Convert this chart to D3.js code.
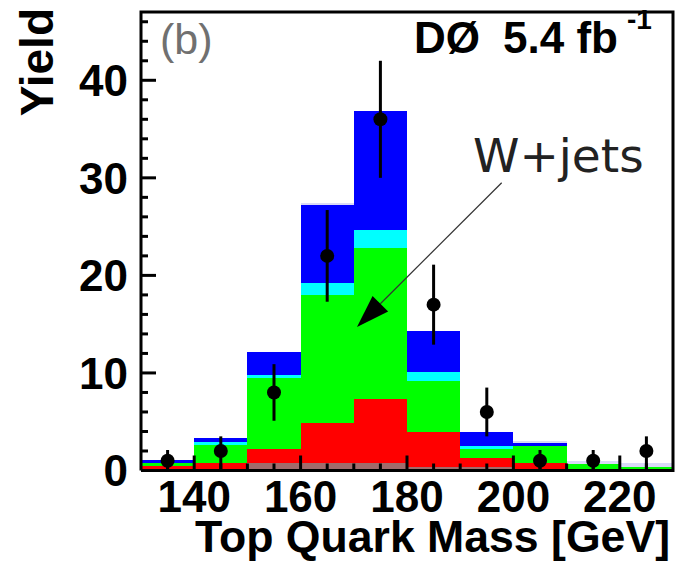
<!DOCTYPE html>
<html>
<head>
<meta charset="utf-8">
<script src="https://cdn.jsdelivr.net/npm/d3@7"></script>
<style>
  body { margin: 0; background: #fff; }
  svg { display: block; }
</style>
</head>
<body>
<svg id="chart" width="677" height="567"></svg>
<script>
// bin lower edges in GeV, each 10 GeV wide
const binEdges = [130, 140, 150, 160, 170, 180, 190, 200, 210, 220];
const binWidth = 10;

// stacked components, bottom to top
const grey     = [0.1, 0.1, 0.74, 0.74, 0.74, 0.39, 0.33, 0.1, 0, 0];
const red      = [0.35, 0.69, 1.51, 4.16, 6.59, 3.58, 0.98, 0.64, 0, 0];
const green    = [0.27, 1.8, 7.23, 13.08, 15.5, 5.2, 0.92, 1.8, 0.67, 0.39];
const cyan     = [0.07, 0.31, 0.34, 1.26, 1.81, 0.95, 0.31, 0, 0, 0];
const blue     = [0.27, 0.44, 2.32, 7.96, 12.22, 4.18, 1.44, 0.28, 0, 0];
const lavender = [0, 0, 0, 0.18, 0, 0, 0, 0.2, 0.3, 0.35];

// data points with error bars
const dataCounts = [1, 2, 8, 22, 36, 17, 6, 1, 1, 2];
const errHigh    = [1.1, 1.5, 2.9, 4.7, 6.0, 4.1, 2.5, 1.1, 1.1, 1.5];
const errLow     = [1, 1.9, 2.9, 4.7, 6.0, 4.1, 2.5, 1, 1, 2];

const xTicksMajor = [140, 160, 180, 200, 220];
const yTicksMajor = [0, 10, 20, 30, 40];

const svg = d3.select('#chart');
const pLeft = 141, pRight = 673, pTop = 12, pBottom = 470.5;

const x = d3.scaleLinear().domain([130, 230]).range([pLeft, pRight]);
const y = d3.scaleLinear().domain([0, 47]).range([pBottom, pTop]);

const layerNames = ['grey', 'red', 'green', 'cyan', 'blue', 'lavender'];
const layerColors = {
  grey: '#a06b6b', red: '#ff0000', green: '#00ff00',
  cyan: '#00ffff', blue: '#0000ff', lavender: '#d9d9f7'
};
const layerData = { grey, red, green, cyan, blue, lavender };

const rows = binEdges.map(function(e, i) {
  const r = { edge: e };
  layerNames.forEach(function(n) { r[n] = layerData[n][i]; });
  return r;
});

const stacked = d3.stack().keys(layerNames)(rows);

svg.append('g')
  .selectAll('g')
  .data(stacked)
  .enter()
  .append('g')
  .attr('fill', function(d) { return layerColors[d.key]; })
  .selectAll('rect')
  .data(function(d) { return d; })
  .enter()
  .append('rect')
  .attr('shape-rendering', 'crispEdges')
  .attr('x', function(d) { return x(d.data.edge); })
  .attr('width', function(d) { return x(d.data.edge + binWidth) - x(d.data.edge); })
  .attr('y', function(d) { return y(d[1]); })
  .attr('height', function(d) { return Math.max(0, y(d[0]) - y(d[1])); });

// frame
svg.append('path')
  .attr('d', 'M' + pLeft + ',' + pBottom + 'V' + pTop + 'H' + pRight + 'V' + pBottom + 'H' + pLeft)
  .attr('fill', 'none')
  .attr('stroke', '#000')
  .attr('stroke-width', 3);

// y ticks (inside, pointing right)
const yMinor = d3.range(0, 47, 2);
svg.append('g')
  .selectAll('line')
  .data(yMinor)
  .enter()
  .append('line')
  .attr('x1', pLeft)
  .attr('x2', function(d) { return d % 10 === 0 ? pLeft + 15 : pLeft + 7; })
  .attr('y1', function(d) { return y(d); })
  .attr('y2', function(d) { return y(d); })
  .attr('stroke', '#000')
  .attr('stroke-width', 3);

// x ticks (inside, pointing up)
const xMinor = d3.range(135, 230, 5);
svg.append('g')
  .selectAll('line')
  .data(xMinor)
  .enter()
  .append('line')
  .attr('x1', function(d) { return x(d); })
  .attr('x2', function(d) { return x(d); })
  .attr('y1', pBottom)
  .attr('y2', function(d) { return d % 20 === 0 ? pBottom - 15 : pBottom - 7; })
  .attr('stroke', '#000')
  .attr('stroke-width', 3);

const font = "'Liberation Sans', Arial, Helvetica, sans-serif";

svg.append('g')
  .selectAll('text')
  .data(yTicksMajor)
  .enter()
  .append('text')
  .attr('x', 128)
  .attr('y', function(d) { return y(d); })
  .attr('dy', '0.36em')
  .attr('text-anchor', 'end')
  .attr('font-family', font)
  .attr('font-weight', 'bold')
  .attr('font-size', 44)
  .text(function(d) { return d; });

svg.append('g')
  .selectAll('text')
  .data(xTicksMajor)
  .enter()
  .append('text')
  .attr('x', function(d) { return x(d); })
  .attr('y', 512)
  .attr('text-anchor', 'middle')
  .attr('font-family', font)
  .attr('font-weight', 'bold')
  .attr('font-size', 44)
  .text(function(d) { return d; });

// axis titles
svg.append('text')
  .attr('x', 195)
  .attr('y', 552)
  .attr('textLength', 475)
  .attr('lengthAdjust', 'spacingAndGlyphs')
  .attr('font-family', font)
  .attr('font-weight', 'bold')
  .attr('font-size', 44)
  .text('Top Quark Mass [GeV]');

svg.append('text')
  .attr('transform', 'translate(53,8) rotate(-90)')
  .attr('text-anchor', 'end')
  .attr('font-family', font)
  .attr('font-weight', 'bold')
  .attr('font-size', 46)
  .text('Yield');

// labels inside frame
svg.append('text')
  .attr('x', 160)
  .attr('y', 54)
  .attr('font-family', font)
  .attr('font-size', 43)
  .attr('fill', '#707070')
  .text('(b)');

svg.append('text')
  .attr('x', 414)
  .attr('y', 53)
  .attr('font-family', font)
  .attr('font-weight', 'bold')
  .attr('font-size', 44)
  .text('DØ');
const lumi = svg.append('text')
  .attr('x', 503)
  .attr('y', 53)
  .attr('font-family', font)
  .attr('font-weight', 'bold')
  .attr('font-size', 44);
lumi.append('tspan').text('5.4 fb');
lumi.append('tspan')
  .attr('dy', -24)
  .attr('dx', 9)
  .attr('font-size', 28)
  .text('-1');

// data points
const pts = svg.append('g');
pts.selectAll('line')
  .data(dataCounts)
  .enter()
  .append('line')
  .attr('x1', function(d, i) { return x(binEdges[i] + binWidth / 2); })
  .attr('x2', function(d, i) { return x(binEdges[i] + binWidth / 2); })
  .attr('y1', function(d, i) { return y(d + errHigh[i]); })
  .attr('y2', function(d, i) { return y(d - errLow[i]); })
  .attr('stroke', '#000')
  .attr('stroke-width', 3);
pts.selectAll('circle')
  .data(dataCounts)
  .enter()
  .append('circle')
  .attr('cx', function(d, i) { return x(binEdges[i] + binWidth / 2); })
  .attr('cy', function(d) { return y(d); })
  .attr('r', 7)
  .attr('fill', '#000');

// W+jets annotation, positions in data units
const annText = { gev: 192.4, val: 30.6 };
const annFrom = { gev: 197.8, val: 29.5 };
const annTip = { gev: 170.6, val: 14.7 };

svg.append('text')
  .attr('x', x(annText.gev))
  .attr('y', y(annText.val))
  .attr('font-family', "'DejaVu Sans', sans-serif")
  .attr('font-size', 47)
  .attr('fill', '#222')
  .text('W+jets');

const ax0 = x(annFrom.gev), ay0 = y(annFrom.val);
const ax1 = x(annTip.gev), ay1 = y(annTip.val);
const ang = Math.atan2(ay1 - ay0, ax1 - ax0);
const headLen = 33, headHalf = 11;
const bx = ax1 - headLen * Math.cos(ang), by = ay1 - headLen * Math.sin(ang);
svg.append('line')
  .attr('x1', ax0).attr('y1', ay0)
  .attr('x2', bx).attr('y2', by)
  .attr('stroke', '#333')
  .attr('stroke-width', 1.2);
svg.append('path')
  .attr('d', 'M' + ax1 + ',' + ay1 +
    'L' + (bx + headHalf * Math.sin(ang)) + ',' + (by - headHalf * Math.cos(ang)) +
    'L' + (bx - headHalf * Math.sin(ang)) + ',' + (by + headHalf * Math.cos(ang)) + 'Z')
  .attr('fill', '#000');
</script>
</body>
</html>
